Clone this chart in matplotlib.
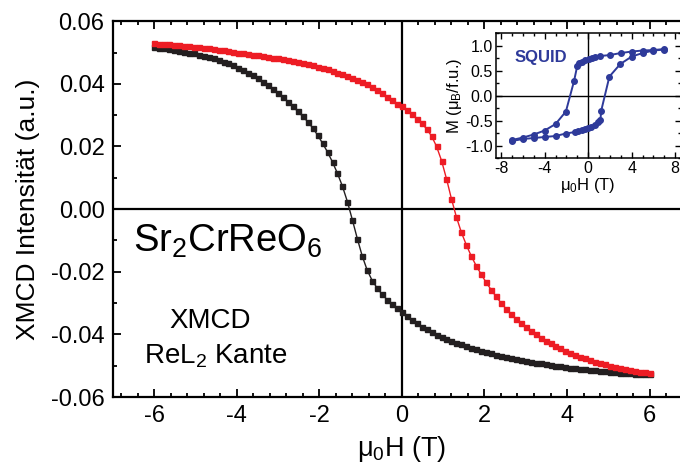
import numpy as np
import matplotlib.pyplot as plt
from matplotlib.ticker import MultipleLocator

plt.rcParams['font.family'] = ['Liberation Sans', 'DejaVu Sans']
plt.rcParams['mathtext.default'] = 'regular'
plt.rcParams['axes.unicode_minus'] = False

# field steps of the XMCD sweep (T)
field = np.round(np.arange(101) * 0.12 - 6, 2)

# sweep from -6 T upwards (black)
xmcd_black = [
    0.0518, 0.0516, 0.0514, 0.0512, 0.0509, 0.0506, 0.0503, 0.0500, 0.0497, 0.0493,
    0.0489, 0.0485, 0.0481, 0.0476, 0.0471, 0.0465, 0.0459, 0.0452, 0.0444, 0.0436,
    0.0427, 0.0418, 0.0407, 0.0396, 0.0384, 0.0371, 0.0357, 0.0343, 0.0328, 0.0312,
    0.0296, 0.0279, 0.0259, 0.0236, 0.0210, 0.0182, 0.0150, 0.0114, 0.0073, 0.0024,
    -0.0034, -0.0094, -0.0150, -0.0195, -0.0228, -0.0252, -0.0272, -0.0289, -0.0304, -0.0317,
    -0.0329, -0.0342, -0.0354, -0.0365, -0.0375, -0.0384, -0.0393, -0.0401, -0.0408, -0.0414,
    -0.0421, -0.0427, -0.0432, -0.0437, -0.0442, -0.0447, -0.0452, -0.0457, -0.0461, -0.0465,
    -0.0468, -0.0472, -0.0475, -0.0478, -0.0482, -0.0485, -0.0488, -0.0490, -0.0493, -0.0495,
    -0.0498, -0.0500, -0.0502, -0.0504, -0.0506, -0.0508, -0.0510, -0.0512, -0.0514, -0.0515,
    -0.0517, -0.0518, -0.0520, -0.0521, -0.0522, -0.0523, -0.0524, -0.0525, -0.0525, -0.0526,
    -0.0527,
]

# sweep from +6 T downwards (red)
xmcd_red = [
    0.0529, 0.0528, 0.0527, 0.0526, 0.0525, 0.0523, 0.0522, 0.0520, 0.0519, 0.0517,
    0.0515, 0.0513, 0.0511, 0.0509, 0.0507, 0.0505, 0.0503, 0.0500, 0.0498, 0.0496,
    0.0493, 0.0491, 0.0489, 0.0486, 0.0484, 0.0481, 0.0478, 0.0475, 0.0472, 0.0469,
    0.0466, 0.0462, 0.0459, 0.0455, 0.0451, 0.0446, 0.0441, 0.0436, 0.0431, 0.0425,
    0.0419, 0.0413, 0.0406, 0.0398, 0.0389, 0.0380, 0.0370, 0.0359, 0.0348, 0.0337,
    0.0329, 0.0316, 0.0303, 0.0289, 0.0274, 0.0256, 0.0233, 0.0200, 0.0155, 0.0097,
    0.0033, -0.0025, -0.0074, -0.0114, -0.0150, -0.0181, -0.0208, -0.0234, -0.0257, -0.0279,
    -0.0299, -0.0318, -0.0335, -0.0350, -0.0364, -0.0377, -0.0389, -0.0400, -0.0410, -0.0420,
    -0.0429, -0.0437, -0.0445, -0.0452, -0.0459, -0.0466, -0.0472, -0.0477, -0.0482, -0.0487,
    -0.0492, -0.0496, -0.0500, -0.0504, -0.0507, -0.0510, -0.0513, -0.0516, -0.0519, -0.0521,
    -0.0524,
]

# SQUID hysteresis loop
squid_h_down = [7.0, 6.0, 5.0, 4.0, 3.0, 2.0, 1.1, 0.65, 0.35, 0.05, -0.25, -0.55, -0.8, -1.0,
                -1.3, -2.05, -3.0, -4.0, -5.0, -6.0, -7.0]
squid_m_down = [0.93, 0.91, 0.90, 0.88, 0.85, 0.81, 0.79, 0.77, 0.75, 0.73, 0.71, 0.68, 0.65, 0.60,
                0.29, -0.32, -0.57, -0.70, -0.78, -0.84, -0.89]
squid_h_up = [-7.0, -6.0, -5.0, -4.0, -3.0, -2.05, -1.2, -0.9, -0.6, -0.3, 0.0, 0.3, 0.6, 0.9,
              1.12, 1.2, 1.95, 2.95, 4.0, 5.0, 6.0, 7.0]
squid_m_up = [-0.91, -0.87, -0.85, -0.83, -0.81, -0.76, -0.73, -0.71, -0.69, -0.67, -0.65, -0.62,
              -0.59, -0.53, -0.49, -0.30, 0.38, 0.63, 0.78, 0.85, 0.90, 0.92]

red = '#ED1C24'
blk = '#231F20'
blue = '#2E3A9A'

fig = plt.figure(figsize=(6.8, 4.68), dpi=100)
ax = fig.add_axes([0.166, 0.1517, 0.850, 0.803])

ax.axhline(0, color='black', lw=1.6, zorder=1)
ax.axvline(0, color='black', lw=1.6, zorder=1)
ax.plot(field, xmcd_black, '-s', color=blk, lw=1.0, ms=3.6, zorder=3)
ax.plot(field, xmcd_red, '-s', color=red, lw=1.0, ms=3.6, zorder=4)

ax.set_xlim(-7, 7)
ax.set_ylim(-0.06, 0.06)
ax.xaxis.set_major_locator(MultipleLocator(2))
ax.xaxis.set_minor_locator(MultipleLocator(0.4))
ax.yaxis.set_major_locator(MultipleLocator(0.02))
ax.yaxis.set_minor_locator(MultipleLocator(0.01))
ax.yaxis.set_major_formatter(plt.FormatStrFormatter('%.2f'))
ax.tick_params(which='both', direction='in', top=True, right=True, width=1.3)
ax.tick_params(which='major', length=5.5, labelsize=17)
ax.tick_params(which='minor', length=3)
ax.tick_params(axis='y', pad=6)
ax.tick_params(axis='x', pad=6)
for s in ax.spines.values():
    s.set_linewidth(1.6)

ax.set_xlabel('μ$_0$H (T)', fontsize=19.5, labelpad=5)
ax.set_ylabel('XMCD Intensität (a.u.)', fontsize=19, labelpad=8)

ax.text(-6.51, -0.0137, 'Sr$_2$CrReO$_6$', fontsize=27.5, ha='left', va='baseline')
ax.text(-4.65, -0.0380, 'XMCD', fontsize=20, ha='center', va='baseline')
ax.text(-4.50, -0.0492, 'ReL$_2$ Kante', fontsize=20, ha='center', va='baseline')

# inset: SQUID magnetization
ins = fig.add_axes([0.729, 0.6624, 0.272, 0.267])
ins.axhline(0, color='black', lw=1.0, zorder=1)
ins.axvline(0, color='black', lw=1.0, zorder=1)
ins.plot(squid_h_down, squid_m_down, '-o', color=blue, lw=1.4, ms=4, zorder=3)
ins.plot(squid_h_up, squid_m_up, '-o', color=blue, lw=1.4, ms=4, zorder=3)
ins.set_xlim(-8.5, 8.5)
ins.set_ylim(-1.25, 1.25)
ins.xaxis.set_major_locator(MultipleLocator(4))
ins.xaxis.set_minor_locator(MultipleLocator(1))
ins.yaxis.set_major_locator(MultipleLocator(0.5))
ins.yaxis.set_minor_locator(MultipleLocator(0.25))
ins.yaxis.set_major_formatter(plt.FormatStrFormatter('%.1f'))
ins.tick_params(which='both', direction='in', top=True, right=True, width=1.0)
ins.tick_params(which='major', length=4, labelsize=11.5, pad=2)
ins.tick_params(which='minor', length=2)
for s in ins.spines.values():
    s.set_linewidth(1.1)
ins.set_xlabel('μ$_0$H (T)', fontsize=12, labelpad=0)
ins.set_ylabel('M (μ$_B$/f.u.)', fontsize=12, labelpad=1)
ins.text(-6.8, 0.67, 'SQUID', fontsize=12, fontweight='bold', color=blue,
         ha='left', va='baseline')

fig.savefig('out.png', dpi=100)
